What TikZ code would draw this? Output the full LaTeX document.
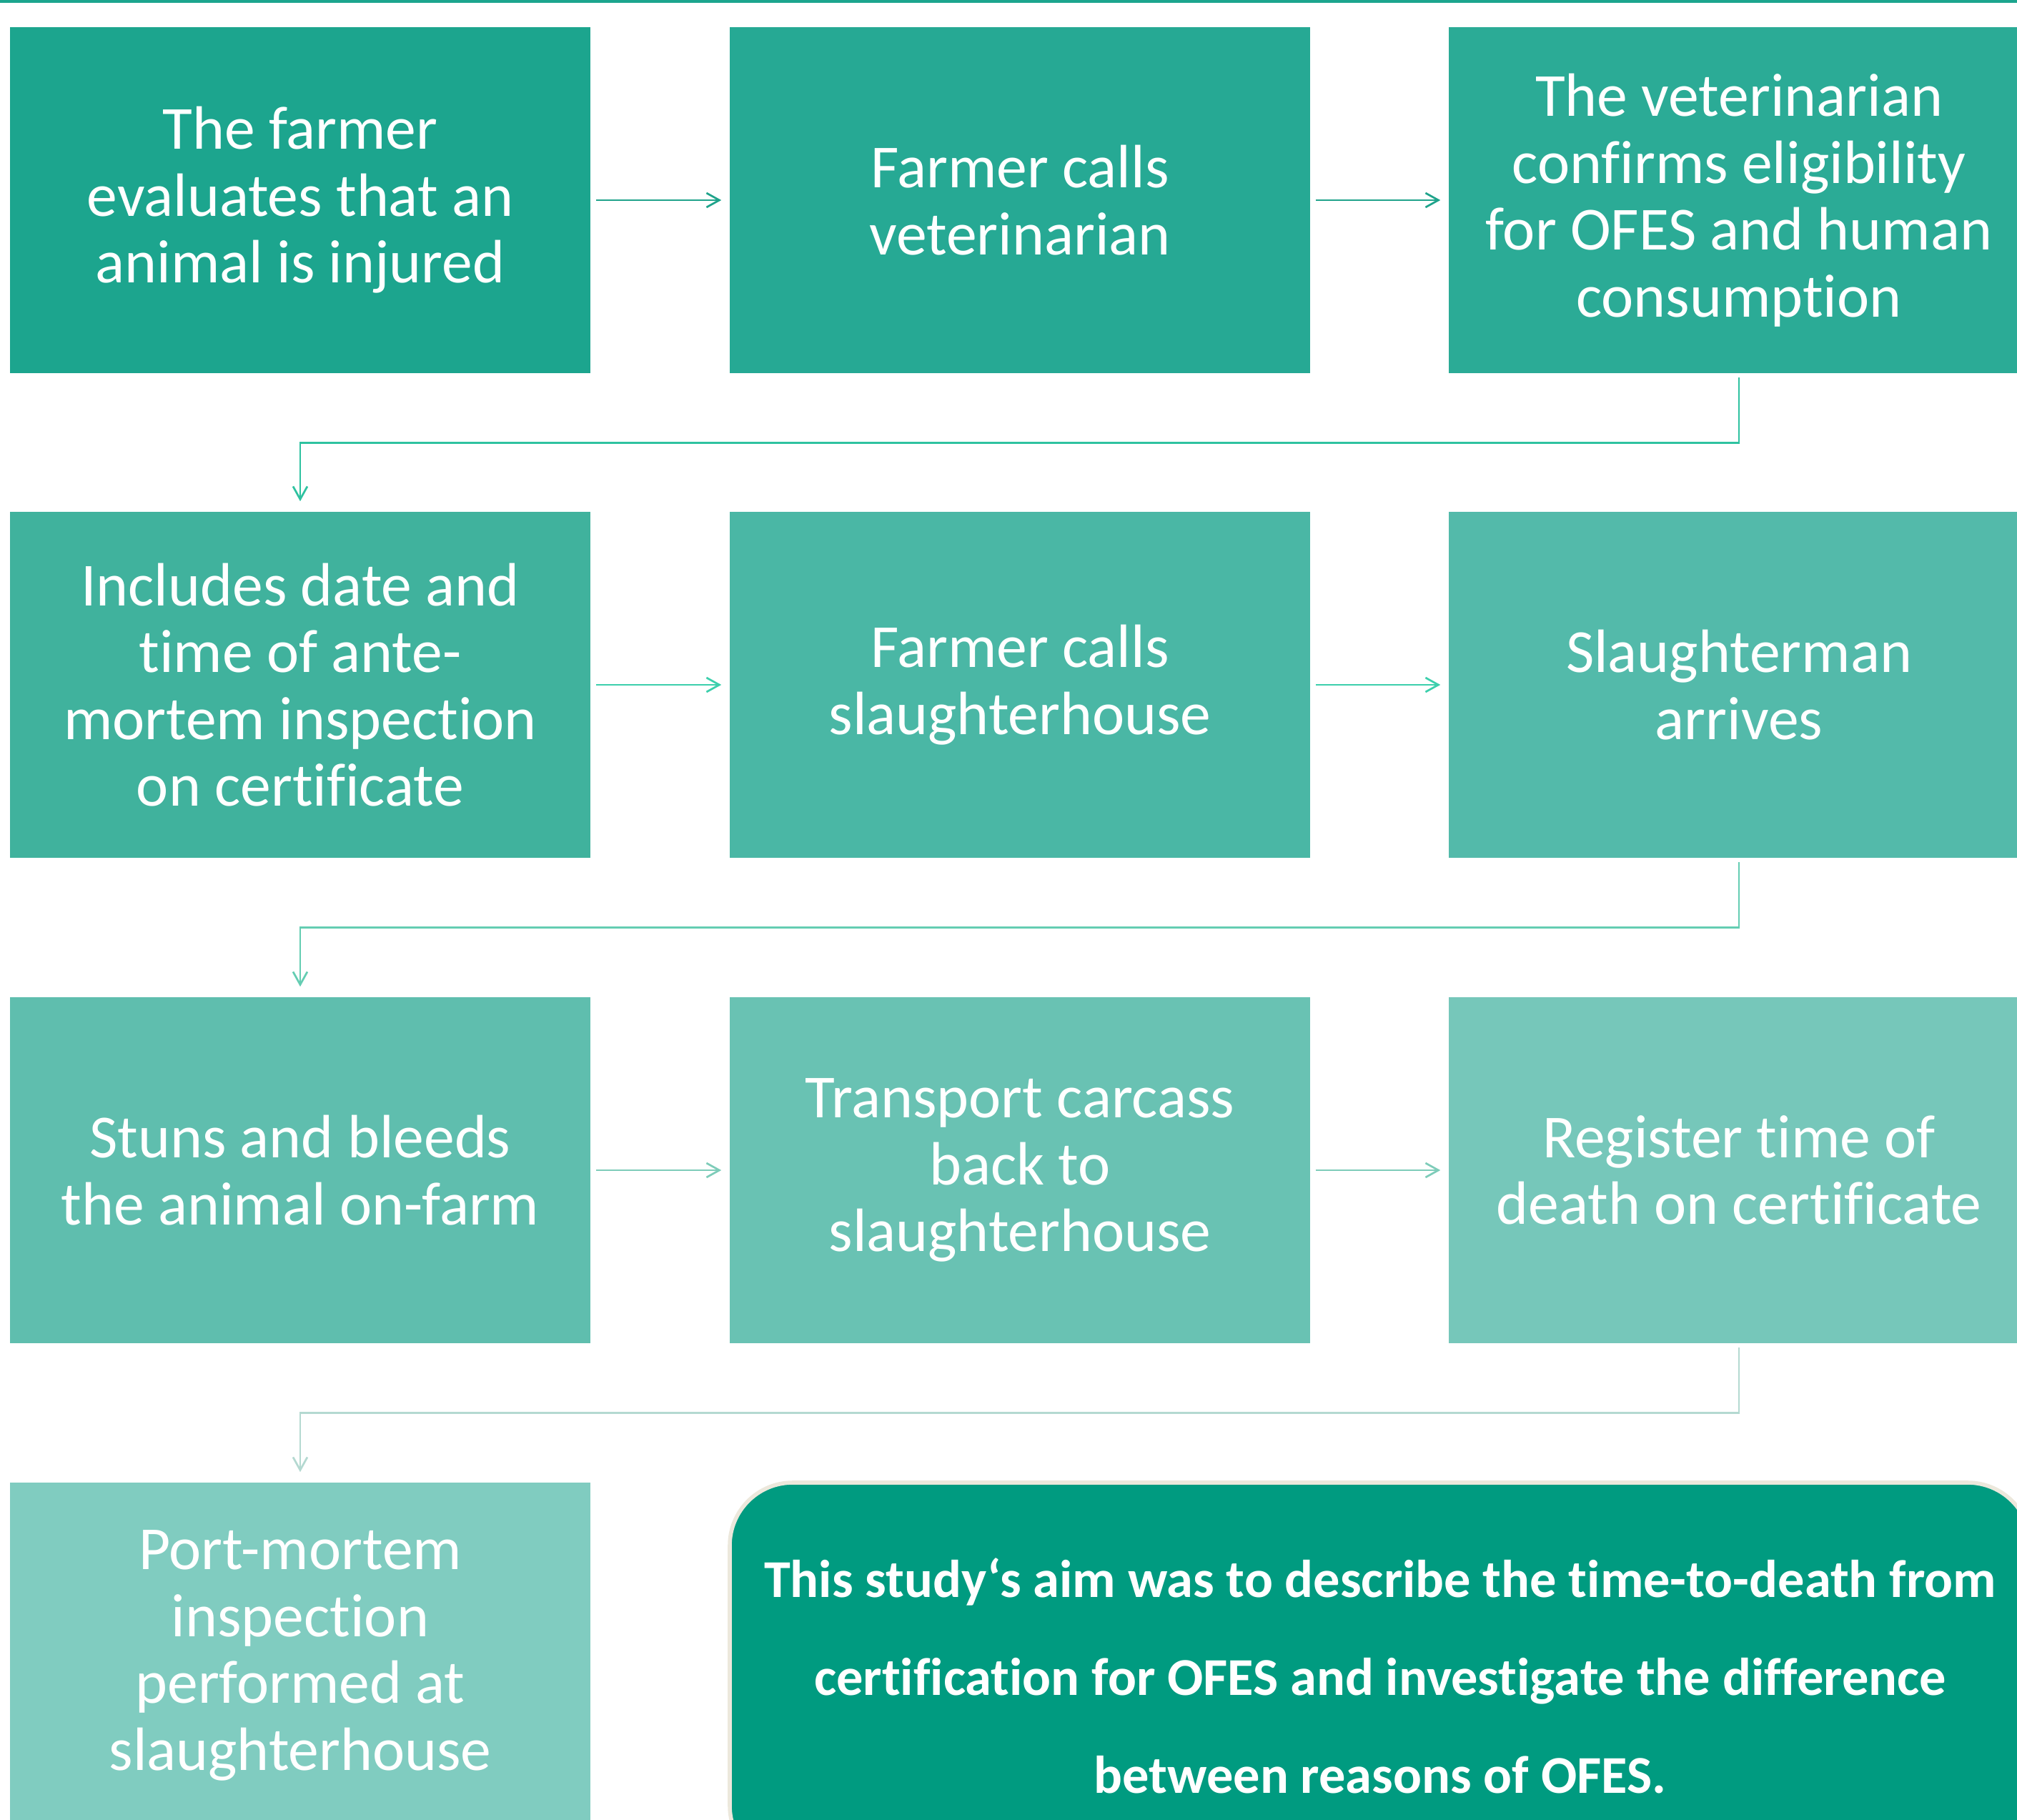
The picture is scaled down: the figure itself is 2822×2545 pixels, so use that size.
\documentclass[tikz,border=0pt]{standalone}
\usepackage{fontspec}
\setmainfont{Carlito}[Ligatures=NoCommon]
\usetikzlibrary{arrows.meta}

% box fills, darkest to lightest
\definecolor{boxA}{HTML}{1CA58E}
\definecolor{boxB}{HTML}{26A994}
\definecolor{boxC}{HTML}{2BAB96}
\definecolor{boxD}{HTML}{40B29D}
\definecolor{boxE}{HTML}{4AB7A5}
\definecolor{boxF}{HTML}{53BAAA}
\definecolor{boxG}{HTML}{5FBEAE}
\definecolor{boxH}{HTML}{69C2B3}
\definecolor{boxI}{HTML}{76C7BA}
\definecolor{boxJ}{HTML}{80CCC0}
% connector colours
\definecolor{arrA}{HTML}{1FA38B}
\definecolor{linkA}{HTML}{2EC2A0}
\definecolor{arrB}{HTML}{3CCFAC}
\definecolor{linkB}{HTML}{64CDB2}
\definecolor{arrC}{HTML}{7ECCB9}
\definecolor{linkC}{HTML}{B4D9D1}
% summary box
\definecolor{aimfill}{HTML}{009B80}
\definecolor{aimedge}{HTML}{ECE8DC}

\tikzset{
  stepbox/.style={rectangle, inner sep=0pt, minimum width=203pt, minimum height=121pt,
    text=white, align=center, font=\fontsize{21.4}{23.4}\selectfont},
  flow/.style={line width=0.68pt, -{Straight Barb[length=4.5pt,width=5pt,line width=0.68pt]}},
  across/.style={flow, shorten <=1.75pt, shorten >=2.75pt},
  down/.style={flow, shorten <=1.25pt, shorten >=3.5pt},
}

\begin{document}
\begin{tikzpicture}[x=0.25pt,y=-0.25pt]
\useasboundingbox (0,0) rectangle (2822,2545);
\clip (0,0) rectangle (2822,2545);

% rule along the top edge
\draw[boxA, line width=1pt] (0,2) -- (2822,2);

% row 1
\node[stepbox, fill=boxA] (s1) at (420,280) {The farmer\\evaluates that an\\animal is injured};
\node[stepbox, fill=boxB] (s2) at (1427,280) {Farmer calls\\veterinarian};
\node[stepbox, fill=boxC] (s3) at (2433,280) {The veterinarian\\confirms eligibility\\for OFES and human\\consumption};
% row 2
\node[stepbox, fill=boxD] (s4) at (420,958) {Includes date and\\time of ante-\\mortem inspection\\on certificate};
\node[stepbox, fill=boxE] (s5) at (1427,958) {Farmer calls\\slaughterhouse};
\node[stepbox, fill=boxF] (s6) at (2433,958) {Slaughterman\\arrives};
% row 3
\node[stepbox, fill=boxG] (s7) at (420,1637) {Stuns and bleeds\\the animal on-farm};
\node[stepbox, fill=boxH] (s8) at (1427,1637) {Transport carcass\\back to\\slaughterhouse};
\node[stepbox, fill=boxI] (s9) at (2433,1637) {Register time of\\death on certificate};
% row 4
\node[stepbox, fill=boxJ] (s10) at (420,2316) {Port-mortem\\inspection\\performed at\\slaughterhouse};

% study aim
\node[rectangle, rounded corners=22pt, fill=aimfill, draw=aimedge, line width=1.4pt,
      minimum width=455pt, minimum height=135pt, inner sep=0pt,
      text=white, align=center, font=\bfseries\fontsize{18.6}{34.2}\selectfont]
  (aim) at (1931,2344)
  {This study‘s aim was to describe the time-to-death from\\certification for OFES and investigate the difference\\between reasons of OFES.};

% connectors
\draw[across, arrA] (s1.east) -- (s2.west);
\draw[across, arrA] (s2.east) -- (s3.west);
\draw[down, linkA] (s3.south) -- ++(0,97) -| (s4.north);
\draw[across, arrB] (s4.east) -- (s5.west);
\draw[across, arrB] (s5.east) -- (s6.west);
\draw[down, linkB] (s6.south) -- ++(0,97) -| (s7.north);
\draw[across, arrC] (s7.east) -- (s8.west);
\draw[across, arrC] (s8.east) -- (s9.west);
\draw[down, linkC] (s9.south) -- ++(0,97) -| (s10.north);
\end{tikzpicture}
\end{document}
